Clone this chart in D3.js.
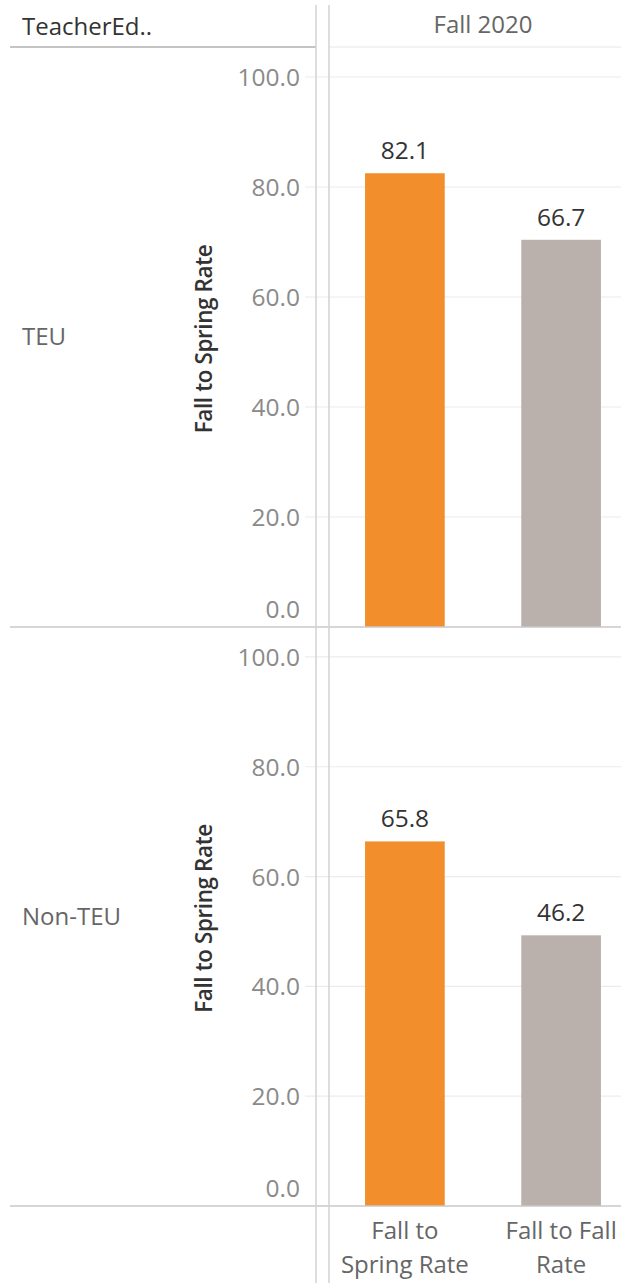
<!DOCTYPE html>
<html>
<head>
<meta charset="utf-8">
<script src="https://cdn.jsdelivr.net/npm/d3@7"></script>
<style>
  html, body { margin: 0; padding: 0; background: #fff; }
  svg { display: block; font-family: "Open Sans", "Noto Sans", sans-serif; }
</style>
</head>
<body>
<svg id="chart" width="621" height="1283"></svg>
<script>
// ---- data ----
const rowField = "TeacherEd..";
const columnHeader = "Fall 2020";
const groups = ["TEU", "Non-TEU"];
const measures = ["Fall to Spring Rate", "Fall to Fall Rate"];
// label values shown above bars
const fallToSpringLabel = [82.1, 65.8];
const fallToFallLabel = [66.7, 46.2];
// bar heights as drawn in the picture
const fallToSpringBar = [82.5, 66.4];
const fallToFallBar = [70.4, 49.3];
const yTicks = [0, 20, 40, 60, 80, 100];
const axisTitle = "Fall to Spring Rate";

const colors = { "Fall to Spring Rate": "#F28E2B", "Fall to Fall Rate": "#BAB0AC" };

const W = 621, H = 1283;
const svg = d3.select("#chart");

const headerY = 47;
const rowBounds = [[47, 627], [627, 1206]];
const axisLineX = 316, paneLineX = 329;

const x = d3.scaleBand().domain(measures).range([326, 640]).paddingInner(0.49).paddingOuter(0.25);

// header
svg.append("text").attr("x", 22).attr("y", 27).attr("dy", "0.35em")
  .attr("font-size", 24).attr("font-weight", 500).attr("fill", "#333").text(rowField);
svg.append("text").attr("x", 483).attr("y", 25).attr("dy", "0.35em")
  .attr("text-anchor", "middle").attr("font-size", 24).attr("fill", "#666").text(columnHeader);

groups.forEach((g, i) => {
  const [top, bottom] = rowBounds[i];
  const y = d3.scaleLinear().domain([0, 105.45]).range([bottom, top]);
  const gr = svg.append("g");

  // gridlines
  gr.selectAll("line.grid").data(yTicks.filter(t => t > 0)).join("line")
    .attr("x1", 305).attr("x2", W).attr("y1", d => y(d)).attr("y2", d => y(d))
    .attr("stroke", "#ececec").attr("stroke-width", 1.2);

  // axis labels
  const ax = gr.append("g").attr("transform", `translate(${axisLineX},0)`)
    .call(d3.axisLeft(y).tickValues(yTicks).tickFormat(d3.format(".1f")).tickSize(0).tickPadding(16));
  ax.select(".domain").remove();
  ax.selectAll("text").attr("font-size", 24.5).attr("fill", "#8a8a8a")
    .attr("font-family", "Open Sans, sans-serif")
    .attr("dy", d => d === 0 ? "-0.4em" : "0.35em");

  // axis title
  gr.append("text")
    .attr("transform", `translate(212,${(top + bottom) / 2 + 2}) rotate(-90)`)
    .attr("text-anchor", "middle").attr("font-size", 22.5).attr("font-weight", 600)
    .attr("fill", "#333").attr("letter-spacing", "-0.4").text(axisTitle);

  // row label
  gr.append("text").attr("x", 22).attr("y", (top + bottom) / 2).attr("dy", "0.35em")
    .attr("font-size", 24).attr("fill", "#666").text(g);

  // bars
  const rows = measures.map((m, j) => ({
    m,
    bar: j === 0 ? fallToSpringBar[i] : fallToFallBar[i],
    label: j === 0 ? fallToSpringLabel[i] : fallToFallLabel[i]
  }));
  gr.selectAll("rect.bar").data(rows).join("rect")
    .attr("x", d => x(d.m)).attr("width", x.bandwidth())
    .attr("y", d => y(d.bar)).attr("height", d => y(0) - y(d.bar))
    .attr("fill", d => colors[d.m]);
  gr.selectAll("text.val").data(rows).join("text")
    .attr("x", d => x(d.m) + x.bandwidth() / 2).attr("y", d => y(d.bar) - 14)
    .attr("text-anchor", "middle").attr("font-size", 24.5).attr("fill", "#333")
    .text(d => d3.format(".1f")(d.label));

  // bottom separator
  svg.append("line").attr("x1", 10).attr("x2", W).attr("y1", bottom).attr("y2", bottom)
    .attr("stroke", "#c8c8c8").attr("stroke-width", 1.5);
});

// header line
svg.append("line").attr("x1", 10).attr("x2", axisLineX).attr("y1", headerY).attr("y2", headerY)
  .attr("stroke", "#c4c4c4").attr("stroke-width", 2);
svg.append("line").attr("x1", paneLineX).attr("x2", W).attr("y1", headerY).attr("y2", headerY)
  .attr("stroke", "#e6e6e6").attr("stroke-width", 1);

// vertical lines
[axisLineX, paneLineX].forEach(xx => {
  svg.append("line").attr("x1", xx).attr("x2", xx).attr("y1", 5).attr("y2", H)
    .attr("stroke", "#d2d2d2").attr("stroke-width", 1.5);
});

// bottom x axis
const xa = svg.append("g").attr("transform", `translate(0,1206)`)
  .call(d3.axisBottom(x).tickSize(0).tickPadding(0));
xa.select(".domain").remove();
xa.selectAll("text").each(function(d) {
  const t = d3.select(this);
  t.text(null).attr("font-size", 24).attr("fill", "#666").attr("font-family", "Open Sans, sans-serif");
  const words = d.split(" ");
  const lines = [];
  let cur = [];
  const probe = t.append("tspan");
  words.forEach(w => {
    const test = cur.concat([w]).join(" ");
    probe.text(test);
    if (probe.node().getComputedTextLength() > 128 && cur.length) {
      lines.push(cur.join(" "));
      cur = [w];
    } else cur.push(w);
  });
  lines.push(cur.join(" "));
  probe.remove();
  lines.forEach((l, k) => {
    t.append("tspan").attr("x", 0).attr("y", 25 + k * 34).attr("dy", "0.35em").text(l);
  });
});
</script>
</body>
</html>
